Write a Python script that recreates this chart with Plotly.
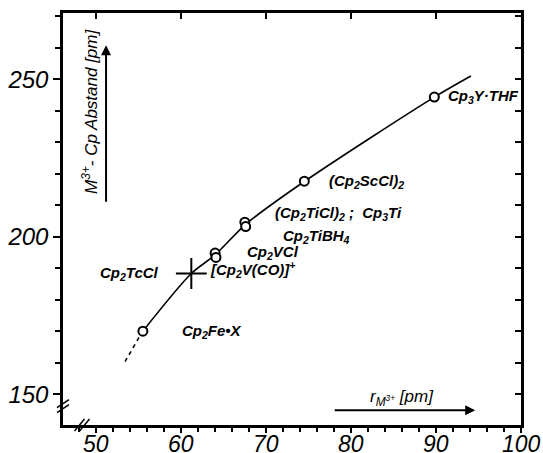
import plotly.graph_objects as go

# data
point_r = [55.5, 64.0, 64.1, 67.5, 67.6, 74.5, 89.8]
point_d = [170.0, 194.8, 193.4, 204.6, 203.2, 217.6, 244.3]
cross_r = [61.2]
cross_d = [188.3]
curve_r = [55.5, 61.2, 64.0, 67.6, 74.5, 89.8, 94.1]
curve_d = [170.0, 188.3, 194.2, 203.9, 217.5, 244.3, 251.0]
dash_r = [53.4, 55.3]
dash_d = [160.3, 169.2]

labels = ["Cp<sub>2</sub>TcCl", "Cp<sub>2</sub>Fe•X", "Cp<sub>2</sub>VCl",
          "[Cp<sub>2</sub>V(CO)]<sup>+</sup>", "Cp<sub>2</sub>TiBH<sub>4</sub>",
          "(Cp<sub>2</sub>TiCl)<sub>2</sub> ;  Cp<sub>3</sub>Ti",
          "(Cp<sub>2</sub>ScCl)<sub>2</sub>", "Cp<sub>3</sub>Y·THF"]
label_r = [57.6, 59.9, 67.5, 63.2, 71.8, 70.8, 77.2, 91.2]
label_d = [188.3, 169.8, 194.9, 189.6, 200.2, 207.2, 217.5, 244.4]
label_anchor = ["right", "left", "left", "left", "left", "left", "left", "left"]

x_ticks = [50, 60, 70, 80, 90, 100]
y_ticks = [150, 200, 250]

FONT = "Liberation Sans"
ink = "black"

fig = go.Figure()
fig.add_trace(go.Scatter(x=dash_r, y=dash_d, mode="lines",
                         line=dict(color=ink, width=1.6, dash="4px,4px"),
                         hoverinfo="skip", showlegend=False))
fig.add_trace(go.Scatter(x=curve_r, y=curve_d, mode="lines",
                         line=dict(color=ink, width=1.6, shape="spline", smoothing=0.8),
                         showlegend=False))
fig.add_trace(go.Scatter(x=point_r, y=point_d, mode="markers",
                         marker=dict(symbol="circle", size=9, color="white",
                                     line=dict(color=ink, width=2)),
                         showlegend=False))
fig.add_trace(go.Scatter(x=cross_r, y=cross_d, mode="markers",
                         marker=dict(symbol="cross-thin", size=22,
                                     line=dict(color=ink, width=2)),
                         showlegend=False))
# invisible trace to host mirror axes
fig.add_trace(go.Scatter(x=[x_ticks[0]], y=[y_ticks[0]], xaxis="x2", yaxis="y2",
                         mode="markers", marker=dict(opacity=0), hoverinfo="skip",
                         showlegend=False))

for t, xr, yd, anc in zip(labels, label_r, label_d, label_anchor):
    fig.add_annotation(x=xr, y=yd, text=t, showarrow=False, xanchor=anc,
                       font=dict(family=FONT, size=15, color=ink, style="italic",
                                 weight="bold"))

XR = [46.1, 100]
YR = [140.2, 271]
yfont = dict(family=FONT, size=24, color=ink, style="italic")
xfont = dict(family=FONT, size=23, color=ink, style="italic")

# x tick labels placed just under the axis (close to it, as in the original)
for v in x_ticks:
    fig.add_annotation(x=v, xref="x", yref="paper", y=0, yanchor="top",
                       yshift=-5, text=str(v), showarrow=False, borderpad=0,
                       font=xfont)

fig.update_layout(
    width=543, height=453,
    margin=dict(l=63, r=22, t=13, b=28),
    paper_bgcolor="white", plot_bgcolor="white",
    xaxis=dict(range=XR, tickvals=x_ticks, ticks="outside", ticklen=5, tickwidth=2,
               tickcolor=ink, showline=True, linecolor=ink, linewidth=2.5,
               showgrid=False, zeroline=False, showticklabels=False, automargin=False,
               minor=dict(dtick=2, tick0=50, ticks="outside", ticklen=4, tickwidth=1.5,
                          tickcolor=ink, showgrid=False)),
    yaxis=dict(range=YR, tickvals=y_ticks, ticks="outside", ticklen=7, tickwidth=2,
               tickcolor=ink, showline=True, linecolor=ink, linewidth=2.5,
               showgrid=False, zeroline=False, tickfont=yfont, automargin=False,
               minor=dict(dtick=10, tick0=150, ticks="outside", ticklen=5, tickwidth=1.5,
                          tickcolor=ink, showgrid=False)),
    xaxis2=dict(range=XR, overlaying="x", side="top", tickvals=x_ticks[:-1],
                ticks="inside", ticklen=6, tickwidth=2, tickcolor=ink,
                showticklabels=False, showline=True, linecolor=ink, linewidth=2.5,
                showgrid=False, zeroline=False, automargin=False),
    yaxis2=dict(range=YR, overlaying="y", side="right", dtick=10, tick0=150,
                ticks="inside", ticklen=6, tickwidth=2, tickcolor=ink,
                showticklabels=False, showline=True, linecolor=ink, linewidth=2.5,
                showgrid=False, zeroline=False, automargin=False),
)

# axis titles with arrows
fig.add_annotation(xref="paper", yref="paper", x=0.059, y=0.76, showarrow=False,
                   xanchor="center", yanchor="middle",
                   text="M<sup>3+</sup>- Cp Abstand [pm]", textangle=-90,
                   font=dict(family=FONT, size=17, color=ink, style="italic"))
fig.add_annotation(xref="paper", yref="paper", x=0.094, y=0.922, text="",
                   showarrow=True, arrowhead=2, arrowsize=1, arrowwidth=2,
                   arrowcolor=ink, ax=0, ay=158)
fig.add_annotation(xref="paper", yref="paper", x=0.74, y=0.066, showarrow=False,
                   xanchor="center", yanchor="middle",
                   text="r<sub>M<sup>3+</sup></sub> [pm]",
                   font=dict(family=FONT, size=17, color=ink, style="italic"))
fig.add_annotation(xref="paper", yref="paper", x=0.900, y=0.036, text="",
                   showarrow=True, arrowhead=2, arrowsize=1, arrowwidth=2,
                   arrowcolor=ink, ax=-142, ay=0)

# axis break marks
for dy in (-2.5, 2.5):
    fig.add_shape(type="line", xref="paper", yref="paper", xsizemode="pixel",
                  ysizemode="pixel", xanchor=0, yanchor=0.046,
                  x0=-6, x1=6, y0=-4 + dy, y1=4 + dy, line=dict(color=ink, width=1.5))
for dx in (-2.5, 2.5):
    fig.add_shape(type="line", xref="paper", yref="paper", xsizemode="pixel",
                  ysizemode="pixel", xanchor=0.0415, yanchor=0,
                  x0=-5 + dx, x1=5 + dx, y0=-6, y1=6, line=dict(color=ink, width=1.5))

fig.write_html("out.html", config={"displayModeBar": False},
               post_script="document.body.style.margin='0';")
